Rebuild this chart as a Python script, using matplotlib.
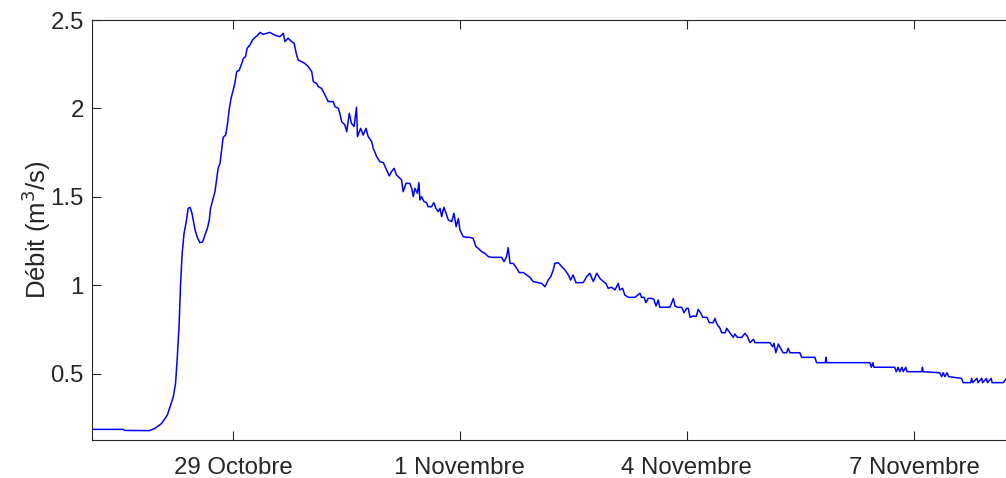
import matplotlib
matplotlib.use("Agg")
import matplotlib.pyplot as plt
import numpy as np
import pandas as pd

# Flow record: hours elapsed since 27 Oct 00:00 and discharge in m3/s
start = pd.Timestamp("2018-10-27 00:00")

hours = [
    3.4, 13.2, 13.7, 21.5, 23.3, 25.4, 27.2, 28.0, 29.1, 29.8, 30.3, 30.9, 31.4,
    31.9, 32.5, 33.1, 33.8, 34.4, 35.0, 35.4, 36.0, 36.7, 37.5, 38.4, 39.1, 39.9,
    40.5, 40.9, 41.6, 42.3, 42.8, 43.3, 43.9, 44.4, 44.9, 45.7, 46.3, 46.8, 47.4,
    48.1, 48.6, 49.2, 50.0, 50.8, 51.3, 52.0, 52.5, 53.4, 54.2, 55.0, 55.7, 56.6,
    57.6, 58.7, 59.7, 60.8, 61.9, 62.9, 64.0, 64.5, 65.5, 66.6, 67.4, 68.2, 68.7,
    69.8, 70.8, 71.9, 73.0, 73.5, 74.5, 75.1, 76.1, 77.2, 78.2, 79.8, 80.4, 81.4,
    81.9, 82.5, 83.5, 84.1, 84.9, 85.6, 86.4, 87.2, 87.5, 88.5, 89.3, 90.2, 90.9,
    92.0, 92.5, 93.6, 94.6, 95.7, 96.5, 97.6, 98.3, 99.1, 99.9, 100.7,
    101.5, 102.0, 102.9, 104.1, 104.7, 105.2, 105.7, 106.5, 107.0, 107.3, 107.8,
    108.6, 109.4, 109.9, 111.0, 111.7, 112.4, 113.1, 113.7, 114.2, 114.9, 115.6,
    116.3, 117.4, 118.1, 118.8, 119.5, 120.0, 121.0, 122.1, 123.2, 124.2, 125.1,
    125.8, 126.9, 127.9, 129.0, 130.1, 131.6, 133.2, 134.0, 134.8, 135.3, 135.9,
    136.9, 138.0, 138.8, 140.1, 141.2, 142.2, 143.2, 144.8, 145.9, 147.0, 148.0,
    148.8, 149.6, 150.1, 151.2, 152.3, 153.3, 154.4, 155.1, 155.9, 156.8, 158.1,
    159.1, 160.2, 161.2, 162.3, 163.4, 164.4,
    165.5, 166.3, 167.0, 168.1, 169.2, 170.2, 170.7, 171.6, 172.3, 173.4, 175.5,
    177.1, 177.6, 178.4, 179.0, 179.7, 180.8, 181.5, 182.2, 182.9, 183.4, 184.5,
    186.6, 187.7, 188.2, 189.0, 190.3, 191.1, 191.9, 192.4, 193.0, 194.0, 194.9,
    195.6, 196.4, 197.0, 198.3, 199.1, 200.3, 200.9, 201.4, 202.5, 203.0, 204.1,
    204.6, 205.6, 206.7, 207.2, 208.0, 209.4, 210.4, 211.2, 212.0, 213.1, 213.6,
    218.3, 219.2, 219.6, 220.2, 221.0, 221.7, 222.5, 223.6, 224.1, 224.7, 227.8,
    228.4, 232.6, 233.1, 235.9, 236.1, 236.3, 250.0, 250.5, 251.0, 251.3, 257.9,
    258.4, 259.0, 259.5, 260.2, 260.6, 261.4, 261.8, 266.5, 266.7, 266.9, 272.2,
    272.8, 273.3, 273.8, 274.5, 275.0, 279.1, 279.6, 282.0, 282.3, 282.6, 284.0,
    284.3, 285.5, 285.8, 287.0, 287.3, 288.5, 288.8, 292.3, 293.2,
]

debit = [
    0.187, 0.187, 0.181, 0.180, 0.193, 0.221, 0.268, 0.312, 0.372, 0.447, 0.579,
    0.767, 1.012, 1.182, 1.295, 1.351, 1.436, 1.442, 1.408, 1.370, 1.314, 1.272,
    1.242, 1.246, 1.285, 1.323, 1.370, 1.436, 1.483, 1.530, 1.596, 1.662, 1.690,
    1.766, 1.837, 1.850, 1.916, 1.992, 2.057, 2.105, 2.142, 2.208, 2.217, 2.255,
    2.283, 2.293, 2.340, 2.359, 2.387, 2.402, 2.411, 2.430, 2.419, 2.425, 2.430,
    2.419, 2.410, 2.406, 2.425, 2.378, 2.397, 2.378, 2.369, 2.302, 2.274, 2.264,
    2.255, 2.236, 2.208, 2.151, 2.142, 2.123, 2.114, 2.076, 2.039, 2.039, 2.010,
    2.001, 1.973, 1.926, 1.907, 1.869, 1.973, 1.916, 1.898, 2.007, 1.841, 1.888,
    1.850, 1.888, 1.841, 1.813, 1.775, 1.728, 1.700, 1.694, 1.662, 1.619, 1.643,
    1.662, 1.624, 1.611,
    1.596, 1.530, 1.577, 1.577, 1.549, 1.502, 1.549, 1.521, 1.581, 1.483, 1.502,
    1.474, 1.468, 1.445, 1.445, 1.468, 1.436, 1.417, 1.436, 1.389, 1.442, 1.408,
    1.370, 1.361, 1.408, 1.332, 1.379, 1.314, 1.276, 1.272, 1.272, 1.266, 1.219,
    1.210, 1.191, 1.182, 1.163, 1.159, 1.159, 1.159, 1.135, 1.163, 1.214, 1.125,
    1.125, 1.097, 1.073, 1.073, 1.059, 1.046, 1.022, 1.016, 1.012, 0.993, 1.031,
    1.050, 1.088, 1.125, 1.129, 1.106, 1.088, 1.059, 1.031, 1.059, 1.016, 1.016,
    1.016, 1.050, 1.069, 1.022, 1.069, 1.040,
    1.022, 1.012, 0.984, 0.990, 0.975, 1.012, 0.975, 0.984, 0.946, 0.933, 0.933,
    0.956, 0.933, 0.933, 0.903, 0.927, 0.927, 0.922, 0.884, 0.918, 0.877, 0.877,
    0.877, 0.927, 0.884, 0.877, 0.877, 0.846, 0.871, 0.871, 0.820, 0.828, 0.824,
    0.865, 0.843, 0.820, 0.820, 0.790, 0.790, 0.814, 0.786, 0.758, 0.733, 0.733,
    0.758, 0.733, 0.707, 0.726, 0.707, 0.707, 0.730, 0.711, 0.677, 0.696, 0.677,
    0.677, 0.654, 0.673, 0.620, 0.669, 0.645, 0.620, 0.620, 0.645, 0.620, 0.620,
    0.594, 0.594, 0.564, 0.564, 0.594, 0.564, 0.564, 0.538, 0.564, 0.538, 0.538,
    0.513, 0.538, 0.513, 0.538, 0.513, 0.538, 0.513, 0.513, 0.538, 0.513, 0.507,
    0.485, 0.507, 0.485, 0.507, 0.485, 0.475, 0.451, 0.451, 0.475, 0.451, 0.475,
    0.451, 0.475, 0.451, 0.475, 0.451, 0.475, 0.451, 0.451, 0.470,
]

tick_days = ["2018-10-29", "2018-11-01", "2018-11-04", "2018-11-07"]
tick_labels = ["29 Octobre", "1 Novembre", "4 Novembre", "7 Novembre"]
y_ticks = [0.5, 1, 1.5, 2, 2.5]
y_tick_labels = ["0.5", "1", "1.5", "2", "2.5"]

plt.rcParams["font.family"] = ["Liberation Sans", "DejaVu Sans"]
ink = "#262626"

times = start + pd.to_timedelta(hours, unit="h")

fig = plt.figure(figsize=(10.06, 4.78), dpi=100)
ax = fig.add_axes([92 / 1006, 38 / 478, 1 - 92 / 1006, 420 / 478])

ax.plot(times, debit, color="#0000ff", lw=1.1)

ax.set_xlim(start + pd.Timedelta(hours=3.3), start + pd.Timedelta(hours=293.2))
ax.set_ylim(0.127, 2.5)

ax.set_xticks(pd.to_datetime(tick_days))
ax.set_xticklabels(tick_labels)
ax.set_yticks(y_ticks)
ax.set_yticklabels(y_tick_labels)

ax.tick_params(axis="both", direction="in", length=6.5, width=0.8, color=ink,
               labelcolor=ink, labelsize=17.3)
ax.tick_params(axis="x", top=True, pad=12)
ax.tick_params(axis="y", right=False, pad=6)

for side in ("left", "top", "bottom"):
    ax.spines[side].set_color(ink)
    ax.spines[side].set_linewidth(0.8)
ax.spines["right"].set_visible(False)

ax.set_ylabel("Débit (m$^3$/s)", fontsize=18.5, color=ink, labelpad=-2)

fig.savefig("out.png", dpi=100)
